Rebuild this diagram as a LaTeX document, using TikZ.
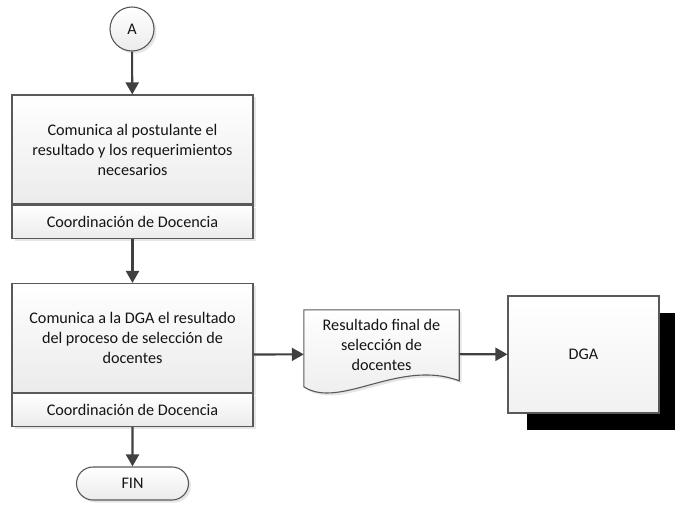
\documentclass[tikz,border=0pt]{standalone}
\usepackage{fontspec}
\setmainfont{Carlito}
\usetikzlibrary{arrows.meta,calc,fit,positioning,shadows,shapes.misc}
\definecolor{ink}{HTML}{141414}
\definecolor{edge}{HTML}{595959}
\definecolor{wire}{HTML}{404040}
\definecolor{paper}{HTML}{EBEBEB}

\begin{document}
\begin{tikzpicture}[
  x=1pt,y=-1pt,
  font=\fontsize{16.2}{20}\selectfont,
  text=ink,
  soft/.style={drop shadow={shadow xshift=2.5pt,shadow yshift=-2.5pt,opacity=0.2}},
  box/.style={draw=edge, line width=1.1pt, top color=white, bottom color=paper,
    align=center, inner sep=2pt, soft},
  task/.style={box, minimum width=241, minimum height=109},
  role/.style={box, minimum width=241, minimum height=33},
  connector/.style={box, circle, minimum size=44, inner sep=0pt},
  terminal/.style={box, rounded rectangle, minimum width=116, minimum height=33},
  docbox/.style={minimum width=155, minimum height=88, inner sep=0pt},
  docline/.style={draw=edge, line width=1.1pt, top color=white, bottom color=paper, soft},
  note/.style={align=center, inner sep=0pt},
  entity/.style={draw=edge, line width=1.1pt, top color=white, bottom color=paper!70,
    minimum width=151, minimum height=117,
    drop shadow={shadow xshift=19pt,shadow yshift=-17pt,opacity=1,fill=black}},
  flow/.style={-{Triangle[length=12pt,width=13pt]}, line width=2.1pt, draw=wire}
]
\useasboundingbox (0,0) rectangle (675,511);

% Connector from the previous page
\node[connector] (A) at (132,29) {A};

% First activity
\node[task] (task1) at (132.5,149.5) {Comunica al postulante el\\resultado y los requerimientos\\necesarios};
\node[role, below=0pt of task1] (role1) {Coordinación de Docencia};

% Second activity
\node[task] (task2) at (132.5,338) {Comunica a la DGA el resultado\\del proceso de selección de\\docentes};
\node[role, below=0pt of task2] (role2) {Coordinación de Docencia};
\node[fit=(task2)(role2), inner sep=0pt] (proc2) {};

\node[terminal] (fin) at (132.5,483.5) {FIN};

% Output document
\node[docbox] (doc) at (381.5,354) {};
\draw[docline] (doc.north west) -- (doc.north east) -- ($(doc.north east)+(0,71)$)
  .. controls ($(doc.south west)+(96,-40)$) and ($(doc.south west)+(36,12)$)
  .. ($(doc.north west)+(0,77)$) -- cycle;
\node[note] (doclabel) at ($(doc.center)+(0,-9)$) {Resultado final de\\selección de\\docentes};

% Receiver
\node[entity] (dga) at (583.5,354.5) {DGA};

\draw[flow] (A) -- (task1);
\draw[flow] (role1) -- (task2);
\draw[flow] (role2) -- (fin);
\draw[flow] (proc2) -- (doc);
\draw[flow] (doc) -- (dga);

\end{tikzpicture}
\end{document}
